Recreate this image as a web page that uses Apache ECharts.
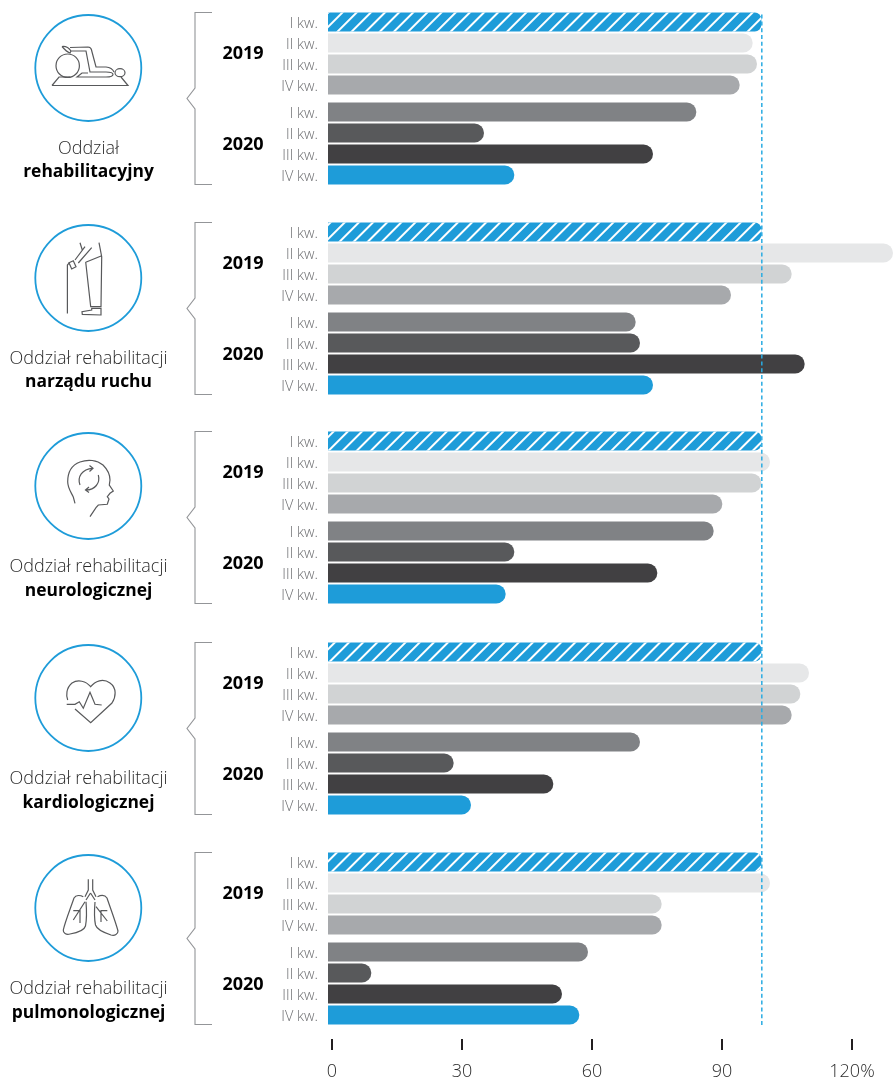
<!DOCTYPE html>
<html><head><meta charset="utf-8">
<style>html,body{margin:0;padding:0;background:#fff}#c{width:893px;height:1081px}</style>
<script src="https://cdn.jsdelivr.net/npm/echarts@6/dist/echarts.min.js"></script>
</head><body><div id="c"></div>
<script>
const quarters = ['I kw.', 'II kw.', 'III kw.', 'IV kw.'];
const years = ['2019', '2020'];
const axisTicks = [0, 30, 60, 90, 120];
const referenceValue = 100;
const rehab2019 = [100, 98, 99, 95];
const rehab2020 = [85, 36, 75, 43];
const motor2019 = [100, 133, 107, 93];
const motor2020 = [71, 72, 110, 75];
const neuro2019 = [100, 102, 100, 91];
const neuro2020 = [89, 43, 76, 41];
const cardio2019 = [100, 111, 109, 107];
const cardio2020 = [72, 29, 52, 33];
const pulmo2019 = [100, 102, 77, 77];
const pulmo2020 = [60, 10, 54, 58];
const wardLight = ['Oddział', 'Oddział rehabilitacji', 'Oddział rehabilitacji', 'Oddział rehabilitacji', 'Oddział rehabilitacji'];
const wardBold = ['rehabilitacyjny', 'narządu ruchu', 'neurologicznej', 'kardiologicznej', 'pulmonologicznej'];
const panelValues = [[rehab2019, rehab2020], [motor2019, motor2020], [neuro2019, neuro2020], [cardio2019, cardio2020], [pulmo2019, pulmo2020]];

const BLUE = '#1e9cd9';
const colors = [[BLUE, '#e6e7e8', '#d1d3d4', '#a7a9ac'], ['#808285', '#58595b', '#414042', BLUE]];
const panelTops = [22, 232, 441, 652, 862];
const circleCy = [68, 278, 486, 698, 908];
const titleY = [[148, 171], [358, 381], [566, 590], [778, 802], [988, 1012]];
const BAR_LEFT = 328, BAR_WIDTH = 565, BAR_MAX = 130.38;
const FONT = '"Open Sans", sans-serif';

const hatch = {symbol: 'rect', color: '#ffffff', dashArrayX: [1, 0], dashArrayY: [2, 7.4], rotation: -Math.PI / 4, symbolSize: 1};

const icons = [
  ['M52 85.5L128 85.5L121 77M52 85.5L59 77L70 77',
   'M62 46.5C66 46 69 48 71 51L86 51L90 72L106 72Q113 72 113 74.5Q113 77 106 77L77 77L82 73L88 73',
   'M62 46.5C65 50 67 52 70 53L71 51M70 47.5L88 47Q91 47 91.5 50L96 67L106 67Q112 67.5 114 72',
   'M79.4 65.7A11.7 11.7 0 1 1 56 65.7A11.7 11.7 0 1 1 79.4 65.7',
   'M125 72.7A5 4 0 1 1 115 72.7A5 4 0 1 1 125 72.7'],
  ['M67.4 313.5L67.4 265L69.5 262.7','M69 262.7L73.3 260.7L76 266.7L71.7 269Z',
   'M75 260L85 246.7M80 242.7L82.3 250M91.7 247.7L78.3 263',
   'M85.7 262L90.7 306.7L101 306.7L101.7 256.7L99 242.7M85.7 262.3L101.7 255.7',
   'M91.7 308.3L91.7 310L82 311.7L82.3 314.3L101 315L101 308.3Z'],
  ['M75 503.3L73.3 497C71 492 67.7 488 67.7 481.7C67.7 472 72 465 80 462C88 459 97 460 103 465C108 470 110 476 110 480L109.3 485L113.3 491L110 493.3L107.3 496.7L109 499L107.3 504.3L98.3 505L96 507.7L90 516.7',
   'M80 485C77 477 82 469 92.7 468.3M89.5 465.5L93 468.3L89.5 471.5',
   'M98.3 475C100.5 483 95 490 86 490M89 487L85.5 490L89 492.5'],
  ['M67.7 700C66 696 66 688 72 683C78 679 86 681 90.7 686.7C95 681 103 678 110 683C117 688 116 697 112 703L90.7 722.7L75 709',
   'M66.7 704.3L75 704.3L79.3 701.7L83.3 708.3L90 692.3L95 704.3L101.7 705'],
  ['M88.3 879.3L88.3 890L85 896.7M92.7 879.3L92.7 890L96 896.7M90.5 893L86 900M90.5 893L95 900',
   'M83.3 896.7C80 895 76 895 74 898C71 907 65 922 63.3 930C63 933 66 935 70 934C76 933 84 931 85.5 926C87 918 86.5 908 86 901.7',
   'M97.5 896.7C101 895 105 895 107 898C110 907 116 923 118 931C118 934 115 936 111 935C105 933 97 930 95.5 925C94 918 94.5 908 95 902',
   'M85 901.7L73.3 920M73.3 910.7L80 910.7L80 923M96 906.7L107.3 921M107.3 910.7L101 910.7L101 922']
];

const grids = [], xAxes = [], yAxes = [], series = [];
panelValues.forEach((pair, p) => {
  pair.forEach((vals, g) => {
    const idx = grids.length;
    const firstCenter = panelTops[p] + (g ? 90 : 0);
    grids.push({left: BAR_LEFT, top: firstCenter - 10.5, width: BAR_WIDTH, height: 84});
    xAxes.push({gridIndex: idx, type: 'value', min: 0, max: BAR_MAX, show: false});
    yAxes.push({gridIndex: idx, type: 'category', inverse: true, data: quarters,
      axisLine: {show: false}, axisTick: {show: false},
      axisLabel: {color: '#6d6e71', fontFamily: FONT, fontWeight: 300, fontSize: 14.5, margin: 10, verticalAlign: 'top', lineHeight: 4}});
    series.push({type: 'bar', xAxisIndex: idx, yAxisIndex: idx, barWidth: 19, silent: true, animation: false,
      data: vals.map((v, i) => {
        const hatched = g === 0 && i === 0;
        const r = hatched ? 6.5 : 9.5;
        const itemStyle = {color: colors[g][i], borderRadius: [0, r, r, 0]};
        if (hatched) itemStyle.decal = hatch;
        return {value: v, itemStyle};
      })});
  });
});

const overlay = grids.length;
grids.push({left: BAR_LEFT + 2, top: 12, width: BAR_WIDTH, height: 1013});
xAxes.push({gridIndex: overlay, type: 'value', min: 0, max: BAR_MAX, show: false});
yAxes.push({gridIndex: overlay, type: 'value', min: 0, max: 1, show: false});
series.push({type: 'line', xAxisIndex: overlay, yAxisIndex: overlay, z: 10, symbol: 'none', silent: true, animation: false,
  data: [[referenceValue, 0], [referenceValue, 1]],
  lineStyle: {color: '#29abe2', width: 1.5, type: [4, 2.8]}});

const tickGrid = grids.length;
grids.push({left: 332, top: 1035, width: 520, height: 6});
xAxes.push({gridIndex: tickGrid, type: 'value', min: axisTicks[0], max: axisTicks[axisTicks.length - 1], interval: 30,
  axisLine: {show: false}, splitLine: {show: false},
  axisTick: {show: true, length: 11, lineStyle: {color: '#231f20', width: 2}},
  axisLabel: {color: '#2b2b2b', fontFamily: FONT, fontWeight: 300, fontSize: 18, margin: 24, showMinLabel: true, showMaxLabel: true,
    hideOverlap: false, formatter: v => v === 120 ? v + '%' : String(v)}});
yAxes.push({gridIndex: tickGrid, type: 'value', show: false});

series.push({type: 'custom', coordinateSystem: 'none', silent: true, animation: false, z: 5, data: [0],
  renderItem: () => {
    const children = [];
    panelTops.forEach((t, p) => {
      const top = t - 9.5, bot = t + 162.5, mid = t + 76.5;
      children.push({type: 'path', shape: {pathData: `M212 ${top}L195 ${top}L195 ${mid-10.5}L187 ${mid}L195 ${mid+10.5}L195 ${bot}L212 ${bot}`},
        style: {fill: 'none', stroke: '#939598', lineWidth: 1.1}});
      children.push({type: 'circle', shape: {cx: 88.3, cy: circleCy[p], r: 53}, style: {fill: 'none', stroke: BLUE, lineWidth: 1.8}});
      icons[p].forEach(d => children.push({type: 'path', shape: {pathData: d},
        style: {fill: 'none', stroke: '#58595b', lineWidth: 1.2}}));
    });
    return {type: 'group', children};
  }});

const graphicText = [];
panelTops.forEach((t, p) => {
  years.forEach((y, g) => graphicText.push({type: 'text', x: 243, y: t + (g ? 123 : 32),
    style: {text: y, fontFamily: FONT, fontWeight: 700, fontSize: 18, fill: '#000', align: 'center', verticalAlign: 'middle'}}));
  graphicText.push({type: 'text', x: 88.5, y: titleY[p][0] + 1,
    style: {text: wardLight[p], fontFamily: FONT, fontWeight: 300, fontSize: 18, fill: '#2b2b2b', align: 'center', verticalAlign: 'middle'}});
  graphicText.push({type: 'text', x: 88.5, y: titleY[p][1] + 1,
    style: {text: wardBold[p], fontFamily: FONT, fontWeight: 700, fontSize: 17.4, fill: '#000', align: 'center', verticalAlign: 'middle'}});
});

const chart = echarts.init(document.getElementById('c'), null, {renderer: 'canvas'});
chart.setOption({animation: false, backgroundColor: '#fff', grid: grids, xAxis: xAxes, yAxis: yAxes, series,
  graphic: {elements: graphicText}});
</script></body></html>
